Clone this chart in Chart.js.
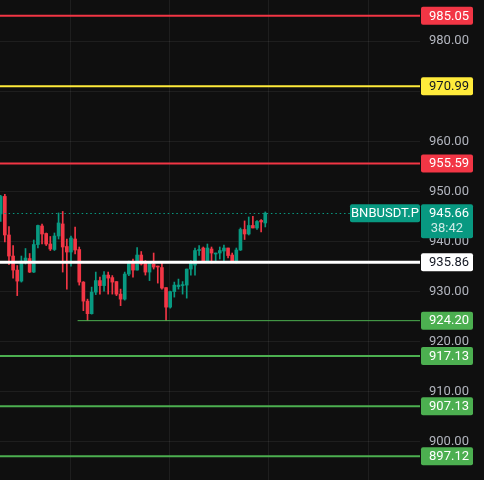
<!DOCTYPE html>
<html>
<head>
<meta charset="utf-8">
<script src="https://cdn.jsdelivr.net/npm/chart.js@4.4.1/dist/chart.umd.min.js"></script>
<style>
  html, body { margin: 0; padding: 0; background: #0f0f0f; }
  #wrap { width: 484px; height: 480px; }
</style>
</head>
<body>
<div id="wrap"><canvas id="candles" width="484" height="480"></canvas></div>
<script>
// OHLC values, one entry per candle
const opens  = [945.5, 949.0, 941.3, 937.1, 934.3, 932.1, 936.0, 936.6, 933.9, 939.4,
                943.1, 941.6, 939.5, 938.4, 941.1, 943.5, 939.0, 937.9, 940.5, 938.4,
                931.9, 928.1, 925.6, 929.9, 932.2, 931.2, 933.3, 932.8, 932.0, 929.5,
                928.5, 933.5, 935.7, 934.3, 937.3, 935.7, 933.9, 935.5, 935.1, 934.8,
                930.8, 926.9, 930.0, 931.0, 931.2, 931.3, 934.5, 935.3, 938.2, 938.7,
                936.0, 938.5, 937.5, 937.7, 938.1, 938.7, 937.3, 935.9, 938.3, 942.4,
                941.5, 943.2, 942.7, 944.2, 943.7];
const highs  = [949.2, 949.4, 943.0, 939.2, 935.2, 937.1, 938.6, 937.6, 940.3, 943.3,
                943.5, 941.7, 941.0, 941.7, 945.7, 946.0, 940.5, 941.1, 942.9, 938.9,
                932.0, 928.5, 930.9, 933.9, 932.9, 934.0, 933.9, 933.2, 932.0, 930.5,
                933.9, 936.1, 936.5, 938.8, 938.0, 936.2, 935.7, 937.7, 935.1, 936.0,
                930.8, 930.1, 931.9, 932.5, 932.0, 934.5, 936.2, 938.7, 939.2, 938.9,
                939.5, 938.9, 937.7, 938.9, 939.3, 938.7, 937.7, 938.7, 942.7, 944.1,
                944.9, 945.0, 944.2, 944.4, 945.9];
const lows   = [944.0, 939.9, 935.4, 932.7, 929.2, 931.9, 935.5, 933.8, 933.8, 938.7,
                939.5, 939.2, 938.2, 938.2, 940.5, 933.9, 930.5, 935.1, 937.5, 931.3,
                926.2, 924.2, 925.5, 929.4, 929.5, 930.1, 929.5, 929.5, 929.2, 927.2,
                928.3, 933.2, 932.9, 934.3, 935.3, 933.3, 932.2, 934.5, 931.7, 930.5,
                924.2, 926.7, 928.9, 930.5, 929.5, 928.7, 933.3, 933.3, 937.2, 936.0,
                936.0, 935.7, 936.1, 936.5, 936.1, 936.7, 935.9, 935.7, 938.2, 940.4,
                941.3, 942.7, 942.4, 941.9, 942.9];
const closes = [949.0, 941.3, 937.1, 934.3, 932.1, 936.1, 936.7, 933.9, 939.4, 943.2,
                941.5, 939.5, 938.5, 941.1, 943.7, 938.9, 937.9, 940.7, 938.3, 931.9,
                928.1, 925.6, 929.9, 932.2, 931.2, 933.3, 932.7, 931.9, 929.5, 928.5,
                933.5, 936.0, 934.3, 937.3, 935.5, 933.9, 935.7, 934.9, 934.9, 930.7,
                926.9, 930.0, 931.3, 931.3, 931.4, 934.5, 935.9, 938.2, 938.4, 936.1,
                938.7, 937.7, 937.7, 938.2, 938.7, 937.2, 935.9, 938.3, 942.4, 941.5,
                943.2, 942.7, 944.0, 943.9, 945.66];

// price axis ticks and vertical time grid (in candle units)
const priceTicks = [900, 910, 920, 930, 940, 950, 960, 970, 980];
const timeGrid = [16.9, 40.9, 64.9, 88.9];

// horizontal levels drawn across the chart
const levelPrices = [985.05, 970.99, 955.59, 935.86, 924.20, 917.13, 907.13, 897.12];
const levelColors = ['#f23645', '#ffeb3b', '#f23645', '#ffffff', '#4caf50', '#4caf50', '#4caf50', '#4caf50'];
const levelText   = ['#ffffff', '#131722', '#ffffff', '#131722', '#ffffff', '#ffffff', '#ffffff', '#ffffff'];
const levelWidths = [2, 2, 2, 3, 1, 2, 2, 2];
const levelStarts = [null, null, null, null, 18.6, null, null, null];

const symbol = 'BNBUSDT.P';
const countdown = '38:42';
const lastPrice = closes[closes.length - 1];

const UP = '#089981';
const DOWN = '#f23645';
const FONT = 'Roboto, "Noto Sans", sans-serif';

const colors = closes.map((c, i) => c >= opens[i] ? UP : DOWN);

function roundRect(ctx, x, y, w, h, r) {
  ctx.beginPath();
  ctx.moveTo(x + r, y);
  ctx.lineTo(x + w - r, y);
  ctx.quadraticCurveTo(x + w, y, x + w, y + r);
  ctx.lineTo(x + w, y + h - r);
  ctx.quadraticCurveTo(x + w, y + h, x + w - r, y + h);
  ctx.lineTo(x + r, y + h);
  ctx.quadraticCurveTo(x, y + h, x, y + h - r);
  ctx.lineTo(x, y + r);
  ctx.quadraticCurveTo(x, y, x + r, y);
  ctx.closePath();
}

const levelsPlugin = {
  id: 'levels',
  afterDatasetsDraw(chart) {
    const { ctx, chartArea: a, scales: { x, y } } = chart;
    ctx.save();
    // dotted last price line
    const py = Math.round(y.getPixelForValue(lastPrice)) + 0.5;
    ctx.strokeStyle = UP;
    ctx.lineWidth = 1;
    ctx.setLineDash([1.5, 2.8]);
    ctx.beginPath();
    ctx.moveTo(a.left, py);
    ctx.lineTo(a.right, py);
    ctx.stroke();
    ctx.setLineDash([]);

    levelPrices.forEach((p, i) => {
      const ly = y.getPixelForValue(p);
      const x0 = levelStarts[i] == null ? a.left : x.getPixelForValue(levelStarts[i]);
      ctx.strokeStyle = levelColors[i];
      ctx.lineWidth = levelWidths[i];
      ctx.beginPath();
      ctx.moveTo(x0, ly);
      ctx.lineTo(a.right, ly);
      ctx.stroke();
    });
    ctx.restore();
  },
  afterDraw(chart) {
    const { ctx, chartArea: a, scales: { y } } = chart;
    ctx.save();
    ctx.font = '13px ' + FONT;
    ctx.textBaseline = 'middle';

    levelPrices.forEach((p, i) => {
      const ly = y.getPixelForValue(p);
      ctx.fillStyle = levelColors[i];
      roundRect(ctx, a.right + 1, ly - 9, 52, 18, 2);
      ctx.fill();
      ctx.fillStyle = levelText[i];
      ctx.textAlign = 'right';
      ctx.fillText(p.toFixed(2), a.right + 49, ly + 0.5);
    });

    // last price tag with countdown, plus symbol tag
    const py = y.getPixelForValue(lastPrice);
    ctx.fillStyle = UP;
    roundRect(ctx, a.right + 1, py - 9, 52, 34, 2);
    ctx.fill();
    roundRect(ctx, a.right - 70, py - 9, 70, 18, 2);
    ctx.fill();
    ctx.fillStyle = '#ffffff';
    ctx.textAlign = 'right';
    ctx.fillText(lastPrice.toFixed(2), a.right + 49, py + 0.5);
    ctx.fillStyle = 'rgba(255,255,255,0.8)';
    ctx.fillText(countdown, a.right + 43, py + 15.5);
    ctx.fillStyle = '#ffffff';
    ctx.textAlign = 'center';
    ctx.fillText(symbol, a.right - 35, py + 0.5);
    ctx.restore();
  }
};

new Chart(document.getElementById('candles'), {
  type: 'bar',
  data: {
    datasets: [{
      label: 'wicks',
      data: closes.map((c, i) => ({ x: i, y: [lows[i], highs[i]] })),
      backgroundColor: colors,
      borderWidth: 0,
      barThickness: 1,
      grouped: false,
      order: 2
    }, {
      label: 'bodies',
      data: closes.map((c, i) => ({ x: i, y: [opens[i], c] })),
      backgroundColor: colors,
      borderWidth: 0,
      barThickness: 3,
      minBarLength: 1,
      grouped: false,
      order: 1
    }]
  },
  options: {
    responsive: false,
    animation: false,
    layout: { padding: 0 },
    plugins: {
      legend: { display: false },
      tooltip: { enabled: false }
    },
    scales: {
      x: {
        type: 'linear',
        min: -0.17,
        max: 101.43,
        offset: false,
        grid: { color: 'rgba(242,242,242,0.07)', drawTicks: false, offset: false },
        border: { display: false },
        ticks: { display: false },
        afterBuildTicks: s => { s.ticks = timeGrid.map(v => ({ value: v })); },
        afterFit: s => { s.height = 0; s.paddingLeft = 0; s.paddingRight = 0; }
      },
      y: {
        position: 'right',
        min: 892.4,
        max: 988.2,
        grid: { color: 'rgba(242,242,242,0.07)', drawTicks: false },
        border: { display: false },
        ticks: {
          color: '#b2b5be',
          padding: 9,
          font: { family: FONT, size: 13 },
          callback: v => v.toFixed(2)
        },
        afterBuildTicks: s => { s.ticks = priceTicks.map(v => ({ value: v })); },
        afterFit: s => { s.width = 64; s.paddingTop = 0; s.paddingBottom = 0; }
      }
    }
  },
  plugins: [levelsPlugin]
});
</script>
</body>
</html>
